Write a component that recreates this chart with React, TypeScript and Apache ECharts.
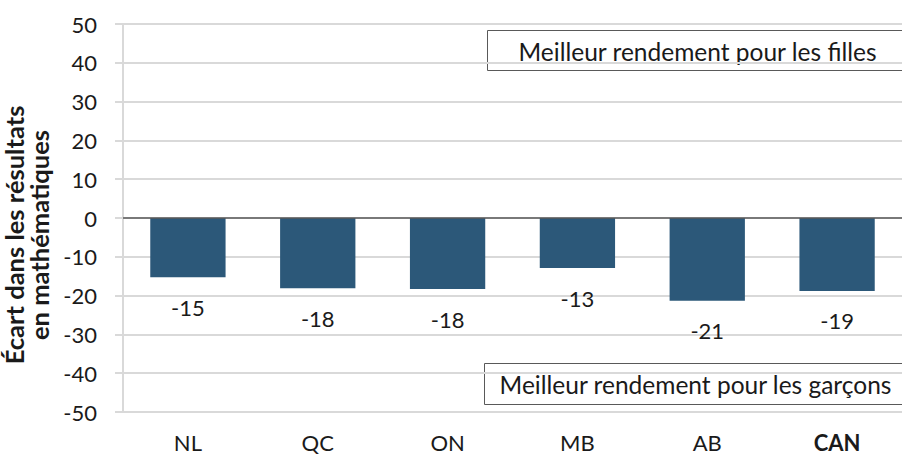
import React, { useEffect, useRef } from "react";
import * as echarts from "echarts";

const categories = ["NL", "QC", "ON", "MB", "AB", "CAN"];
const gaps = [-15.3, -18.1, -18.3, -12.9, -21.3, -18.8];
const yTicks = { min: -50, max: 50, interval: 10 };
const topNote = "Meilleur rendement pour les filles";
const bottomNote = "Meilleur rendement pour les garçons";
const yTitle = "Écart dans les résultats\nen mathématiques";

const FONT = "Lato";
const FS = 22;

export default function App() {
  const ref = useRef<HTMLDivElement>(null);
  useEffect(() => {
    if (!ref.current) return;
    const chart = echarts.init(ref.current, null, { renderer: "svg" });
    chart.setOption({
      animation: false,
      textStyle: { fontFamily: FONT },
      grid: { left: 123, right: 0, top: 24, bottom: 43, containLabel: false, outerBoundsMode: "none" },
      xAxis: {
        type: "category",
        data: categories,
        axisLine: { show: false },
        axisTick: { show: false },
        axisLabel: {
          margin: 19,
          fontSize: FS,
          color: "#1a1a1a",
          fontFamily: FONT,
          formatter: (v: string) => (v === "CAN" ? "{b|" + v + "}" : v),
          rich: { b: { fontWeight: "bold", fontSize: FS, color: "#1a1a1a", fontFamily: FONT } },
        },
      },
      yAxis: {
        type: "value",
        min: yTicks.min,
        max: yTicks.max,
        interval: yTicks.interval,
        name: yTitle,
        nameLocation: "middle",
        nameRotate: 90,
        nameGap: 71,
        nameTextStyle: {
          fontSize: 25.5,
          fontWeight: "bold",
          color: "#1a1a1a",
          lineHeight: 25,
          fontFamily: FONT,
          padding: [0, 34, 0, 0],
        },
        axisLine: { show: true, lineStyle: { color: "#d9d9d9", width: 2 } },
        axisTick: { show: true, length: 8, lineStyle: { color: "#d9d9d9", width: 2 } },
        axisLabel: { margin: 26, fontSize: FS, color: "#1a1a1a", fontFamily: FONT },
        splitLine: { show: true, lineStyle: { color: "#d9d9d9", width: 2 } },
      },
      series: [
        {
          type: "bar",
          data: gaps,
          barWidth: "58%",
          itemStyle: { color: "#2c5879" },
          label: {
            show: true,
            position: "bottom",
            distance: 19,
            fontSize: FS,
            color: "#1a1a1a",
            fontFamily: FONT,
            formatter: (p: any) => String(Math.round(p.value)),
          },
          markLine: {
            silent: true,
            symbol: "none",
            label: { show: false },
            lineStyle: { color: "#595959", width: 1.5, type: "solid" },
            data: [{ yAxis: 0 }],
          },
        },
      ],
      graphic: [
        {
          type: "group",
          left: 487,
          top: 30,
          children: [
            {
              type: "rect",
              shape: { x: 0, y: 0, width: 420, height: 40 },
              style: { fill: "#ffffff", stroke: "#595959", lineWidth: 1 },
            },
            {
              type: "text",
              x: 210,
              y: 21,
              style: {
                text: topNote,
                fontSize: 24.5,
                fontFamily: FONT,
                fill: "#1a1a1a",
                align: "center",
                verticalAlign: "middle",
              },
            },
          ],
        },
        {
          type: "group",
          left: 484,
          top: 363,
          children: [
            {
              type: "rect",
              shape: { x: 0, y: 0, width: 420, height: 41 },
              style: { fill: "#ffffff", stroke: "#595959", lineWidth: 1 },
            },
            {
              type: "text",
              x: 211,
              y: 21,
              style: {
                text: bottomNote,
                fontSize: 24.5,
                fontFamily: FONT,
                fill: "#1a1a1a",
                align: "center",
                verticalAlign: "middle",
              },
            },
          ],
        },
      ],
    });
    return () => chart.dispose();
  }, []);
  return <div ref={ref} style={{ width: 902, height: 455, position: "absolute", left: 0, top: 0 }} />;
}
